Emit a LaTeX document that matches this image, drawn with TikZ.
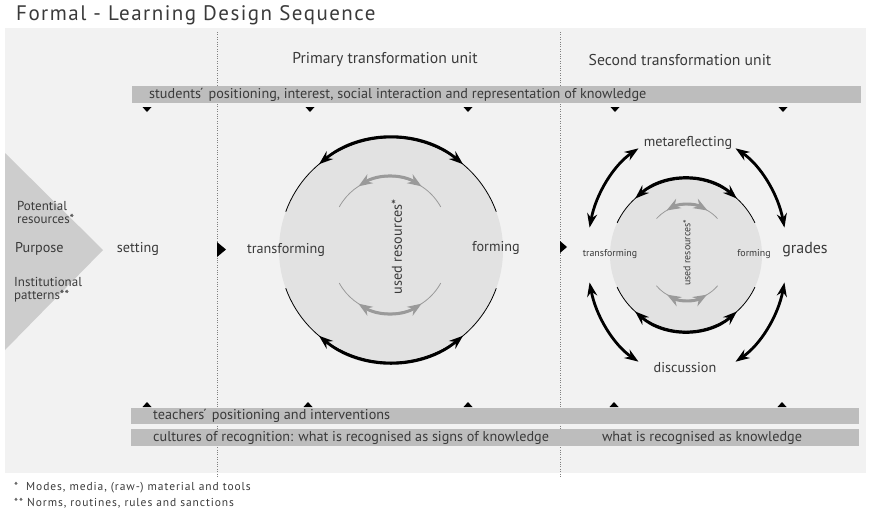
\documentclass[tikz,border=0pt]{standalone}
\usepackage{fontspec}
\setmainfont{PT Sans}
\usetikzlibrary{arrows.meta}
\definecolor{panelgray}{HTML}{F2F2F2}
\definecolor{bargray}{HTML}{BDBDBD}
\definecolor{chevgray}{HTML}{CDCDCD}
\definecolor{discgray}{HTML}{E2E2E2}
\definecolor{inkgray}{HTML}{3A3A3A}
\definecolor{arcgray}{HTML}{9A9A9A}

\begin{document}
\begin{tikzpicture}[x=1pt, y=-1pt,
        every node/.style={text=inkgray, inner sep=0pt},
        ttl/.style={font=\fontsize{21}{23}\selectfont\addfontfeatures{LetterSpace=7}},
        hdr/.style={font=\fontsize{15.7}{17}\selectfont},
        lbl/.style={font=\fontsize{14.2}{15}\selectfont},
        two/.style={font=\fontsize{13}{13}\selectfont, align=left, anchor=west},
        sml/.style={font=\fontsize{9.9}{11}\selectfont},
        fnt/.style={font=\fontsize{11.5}{13}\selectfont\addfontfeatures{LetterSpace=8}},
        blkthin/.style={line width=0.8pt, black},
        blkarrow/.style={line width=2.8pt, black, >={Stealth[length=14pt,width=10pt]}, <->},
        grythin/.style={line width=0.8pt, arcgray},
        gryarrow/.style={line width=2.8pt, arcgray, >={Stealth[length=14pt,width=10.5pt]}, <->}]
        \useasboundingbox (0,0) rectangle (869,512);
        \fill[panelgray] (5,28) rectangle (866,473);
        \draw[gray, dotted] (217,32) -- (217,478);
        \draw[gray, dotted] (560,32) -- (560,478);

        \node[ttl, anchor=west] (title) at (16,15) {Formal - Learning Design Sequence};
        \node[hdr] (primary) at (385,60) {Primary transformation unit};
        \node[hdr] (second) at (680,60) {Second transformation unit};

        \fill[bargray] (132,86) rectangle (861,103);
        \node[lbl, anchor=west] (students) at (149,94.5) {students\'{} positioning, interest, social interaction and representation of knowledge};
        \fill[bargray] (131,408) rectangle (859,424);
        \node[lbl, anchor=west] (teachers) at (153,416) {teachers\'{} positioning and interventions};
        \fill[bargray] (131,429) rectangle (859,446);
        \node[lbl, anchor=west] (cultures) at (153,437.5) {cultures of recognition: what is recognised as signs of knowledge};
        \node[lbl] (recognised) at (702,437.5) {what is recognised as knowledge};

        \foreach \x in {147,310,468,615,783}
            \fill (\x-4.5,107) -- (\x+4.5,107) -- (\x,112) -- cycle;
        \foreach \x in {147,308,468,614,782}
            \fill (\x-4.5,407) -- (\x+4.5,407) -- (\x,402) -- cycle;
        \fill (217,242) -- (226,249.5) -- (217,257) -- cycle;
        \fill (560,241) -- (567,247) -- (560,253) -- cycle;

        \fill[chevgray] (5,153) -- (103,250) -- (5,350) -- cycle;
        \node[two] (potential) at (17,212) {Potential\\resources*};
        \node[lbl, anchor=west] (purpose) at (15,249) {Purpose};
        \node[two] (institutional) at (14,290) {Institutional\\patterns**};
        \node[lbl] (setting) at (138,249) {setting};

        % primary unit
        \coordinate (pc) at (391,250);
        \fill[discgray] (pc) circle [radius=112];
        \draw[blkthin] (pc) ++(200:112) arc [start angle=200, end angle=340, radius=112];
        \draw[blkthin] (pc) ++(160:112) arc [start angle=160, end angle=20, radius=112];
        \draw[blkarrow] (pc) ++(230:112) arc [start angle=230, end angle=310, radius=112];
        \draw[blkarrow] (pc) ++(130:112) arc [start angle=130, end angle=50, radius=112];
        \draw[grythin] (390,235) ++(209:58) arc [start angle=209, end angle=331, radius=58];
        \draw[gryarrow] (390,235) ++(237:58) arc [start angle=237, end angle=303, radius=58];
        \draw[grythin] (390,255) ++(151:58) arc [start angle=151, end angle=29, radius=58];
        \draw[gryarrow] (390,255) ++(123:58) arc [start angle=123, end angle=57, radius=58];
        \node[lbl] (transforming) at (286,250) {transforming};
        \node[lbl] (forming) at (496,248) {forming};
        \node[lbl, rotate=90] (used) at (397,247) {used resources*};

        % second unit
        \coordinate (sc) at (686,255);
        \fill[discgray] (sc) circle [radius=76];
        \draw[blkthin] (sc) ++(205:76) arc [start angle=205, end angle=335, radius=76];
        \draw[blkthin] (sc) ++(155:76) arc [start angle=155, end angle=25, radius=76];
        \draw[blkarrow] (sc) ++(228:76) arc [start angle=228, end angle=312, radius=76];
        \draw[blkarrow] (sc) ++(132:76) arc [start angle=132, end angle=48, radius=76];
        \draw[grythin] (687,246) ++(222:41) arc [start angle=222, end angle=318, radius=41];
        \draw[gryarrow] (687,246) ++(240:41) arc [start angle=240, end angle=300, radius=41];
        \draw[grythin] (687,260) ++(140:40) arc [start angle=140, end angle=40, radius=40];
        \draw[gryarrow] (687,260) ++(120:40) arc [start angle=120, end angle=60, radius=40];
        \node[sml] (transforming2) at (610,254) {transforming};
        \node[sml] (forming2) at (754,254) {forming};
        \node[sml, rotate=90] (used2) at (687,253) {used resources*};

        \coordinate (ec) at (687,255);
        \draw[blkarrow] (ec) ++(193:100 and 122) arc [start angle=193, end angle=241, x radius=100, y radius=122];
        \draw[blkarrow] (ec) ++(299:100 and 122) arc [start angle=299, end angle=347, x radius=100, y radius=122];
        \draw[blkarrow] (ec) ++(167:100 and 122) arc [start angle=167, end angle=119, x radius=100, y radius=122];
        \draw[blkarrow] (ec) ++(61:100 and 122) arc [start angle=61, end angle=13, x radius=100, y radius=122];
        \node[lbl] (metareflecting) at (688,143) {metareflecting};
        \node[lbl, font=\fontsize{16}{17}\selectfont] (grades) at (805,250) {grades};
        \node[lbl] (discussion) at (685,368) {discussion};

        \node[fnt, anchor=west] (note1) at (14,488) {*\ \ Modes, media, (raw-) material and tools};
        \node[fnt, anchor=west] (note2) at (14,503) {** Norms, routines, rules and sanctions};
\end{tikzpicture}
\end{document}
